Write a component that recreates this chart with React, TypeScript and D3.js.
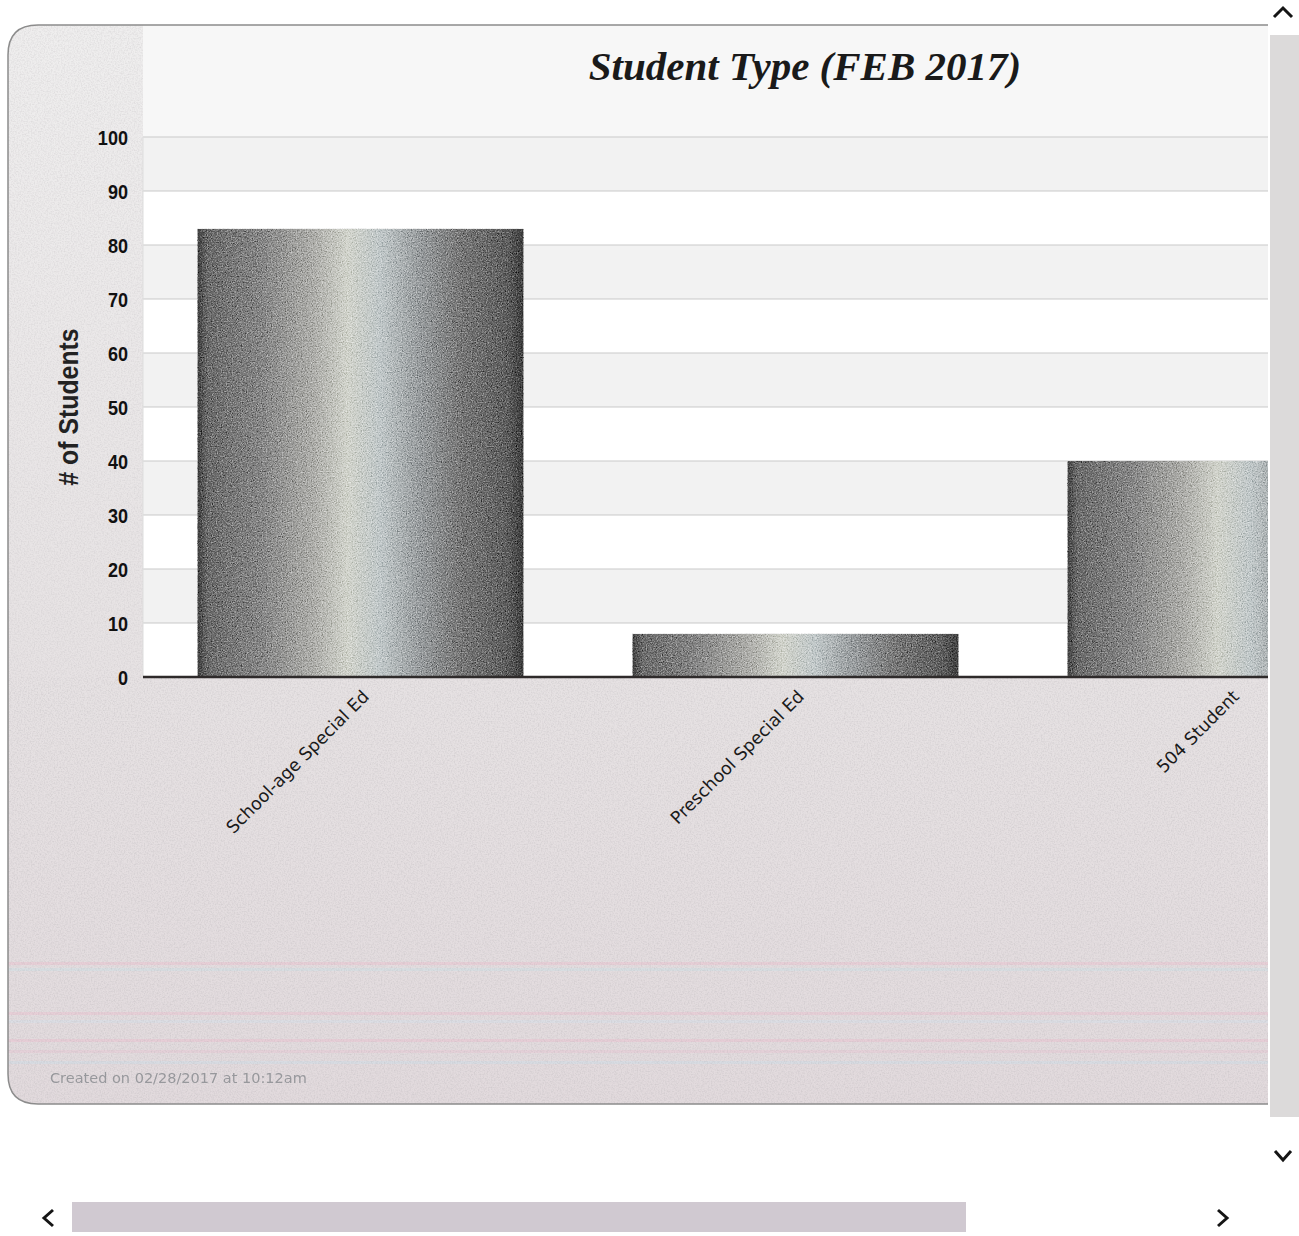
import React from "react";
import * as d3 from "d3";

// ---- chart data ----
const categories = ["School-age Special Ed", "Preschool Special Ed", "504 Student"];
const studentCounts = [83, 8, 40];
const yTickValues = [0, 10, 20, 30, 40, 50, 60, 70, 80, 90, 100];
const chartTitle = "Student Type (FEB 2017)";
const yAxisTitle = "# of Students";
const footnote = "Created on 02/28/2017 at 10:12am";

const W = 1299;
const H = 1236;
const viewRight = 1268; // right edge of the scrolled viewport
const plot = { left: 143, top: 137, bottom: 677, width: 1305 };

export default function App() {
  const y = d3.scaleLinear().domain([0, 100]).range([plot.bottom, plot.top]);
  const x = d3
    .scaleBand<string>()
    .domain(categories)
    .range([plot.left, plot.left + plot.width])
    .paddingInner(0.25)
    .paddingOuter(0.125);

  const bands = yTickValues.filter((v) => v < 100 && (v / 10) % 2 === 1);
  const streaks = [
    { y: 962, c: "#e9c7d2" },
    { y: 968, c: "#d3dfe4" },
    { y: 1012, c: "#e9c7d2" },
    { y: 1020, c: "#d8dfe6" },
    { y: 1039, c: "#e9c7d2" },
    { y: 1050, c: "#e6ccd5" },
    { y: 1061, c: "#d3dde5" },
  ];

  const panelPath = "M8,55 Q8,25 38,25 L1300,25 L1300,1104 L38,1104 Q8,1104 8,1074 Z";

  return (
    <svg
      width={W}
      height={H}
      style={{ position: "absolute", left: 0, top: 0, background: "#ffffff" }}
    >
      <defs>
        <linearGradient id="barFill" x1="0" y1="0" x2="1" y2="0">
          <stop offset="0" stopColor="#3e3e3e" />
          <stop offset="0.03" stopColor="#6a6a6a" />
          <stop offset="0.2" stopColor="#878787" />
          <stop offset="0.36" stopColor="#b0b0ac" />
          <stop offset="0.46" stopColor="#d2d4cc" />
          <stop offset="0.56" stopColor="#c2c9ca" />
          <stop offset="0.68" stopColor="#9a9ea0" />
          <stop offset="0.8" stopColor="#787878" />
          <stop offset="0.95" stopColor="#5c5c5c" />
          <stop offset="1" stopColor="#3c3c3c" />
        </linearGradient>
        <linearGradient id="panelFill" x1="0" y1="0" x2="0" y2="1">
          <stop offset="0" stopColor="#efeeee" />
          <stop offset="0.55" stopColor="#e7e3e4" />
          <stop offset="1" stopColor="#e2dadd" />
        </linearGradient>
        <filter id="grain" x="0" y="0" width="100%" height="100%">
          <feTurbulence type="fractalNoise" baseFrequency="0.8" numOctaves="2" seed="7" result="t" />
          <feColorMatrix
            in="t"
            type="matrix"
            values="0.33 0.33 0.33 0 0  0.33 0.33 0.33 0 0  0.33 0.33 0.33 0 0  0 0 0 0 1"
            result="g"
          />
          <feComponentTransfer in="g" result="gc">
            <feFuncR type="linear" slope="2.8" intercept="-0.9" />
            <feFuncG type="linear" slope="2.8" intercept="-0.9" />
            <feFuncB type="linear" slope="2.8" intercept="-0.9" />
          </feComponentTransfer>
          <feBlend in="gc" in2="SourceGraphic" mode="soft-light" result="b" />
          <feComposite in="b" in2="SourceGraphic" operator="in" />
        </filter>
        <filter id="paperGrain" x="0" y="0" width="100%" height="100%">
          <feTurbulence type="fractalNoise" baseFrequency="0.7" numOctaves="2" seed="3" result="t" />
          <feColorMatrix
            in="t"
            type="matrix"
            values="0 0 0 0 0.45  0 0 0 0 0.43  0 0 0 0 0.45  1.4 0 0 0 -0.55"
          />
        </filter>
        <filter id="soft" x="-5%" y="-50%" width="110%" height="200%">
          <feGaussianBlur stdDeviation="0.6" />
        </filter>
        <clipPath id="viewport">
          <rect x={0} y={0} width={viewRight} height={H} />
        </clipPath>
        <clipPath id="panelClip">
          <path d={panelPath} />
        </clipPath>
      </defs>

      <g clipPath="url(#viewport)">
        {/* panel */}
        <path d={panelPath} fill="url(#panelFill)" />
        <g clipPath="url(#panelClip)">
          <rect x={plot.left} y={25} width={plot.width} height={plot.top - 25} fill="#f7f7f7" />
          {streaks.map((s, i) => (
            <rect key={i} x={8} y={s.y} width={1300} height={3} fill={s.c} opacity={0.65} />
          ))}
          {/* paper grain on the lower part of the panel */}
          <rect x={8} y={plot.bottom} width={1300} height={1104 - plot.bottom} filter="url(#paperGrain)" opacity={0.5} />
          <rect x={8} y={25} width={plot.left - 8} height={plot.bottom - 25} filter="url(#paperGrain)" opacity={0.4} />
        </g>

        {/* plot background with alternating bands */}
        <rect x={plot.left} y={plot.top} width={plot.width} height={plot.bottom - plot.top} fill="#ffffff" />
        {bands.map((v) => (
          <rect
            key={v}
            x={plot.left}
            y={y(v + 10)}
            width={plot.width}
            height={y(v) - y(v + 10)}
            fill="#f2f2f2"
          />
        ))}

        {/* gridlines */}
        {yTickValues
          .filter((v) => v > 0)
          .map((v) => (
            <line
              key={v}
              x1={plot.left}
              x2={plot.left + plot.width}
              y1={y(v)}
              y2={y(v)}
              stroke="#c9c9c9"
              strokeWidth={1}
            />
          ))}
        <line x1={plot.left} x2={plot.left} y1={plot.top} y2={plot.bottom} stroke="#dddddd" />

        {/* bars */}
        {categories.map((c, i) => (
          <rect
            key={c}
            x={x(c)}
            y={y(studentCounts[i])}
            width={x.bandwidth()}
            height={y(0) - y(studentCounts[i])}
            fill="url(#barFill)"
            filter="url(#grain)"
          />
        ))}

        {/* x axis line */}
        <line
          x1={plot.left}
          x2={plot.left + plot.width}
          y1={y(0)}
          y2={y(0)}
          stroke="#2e2a2a"
          strokeWidth={2.5}
        />

        {/* y tick labels */}
        {yTickValues.map((v) => (
          <text
            key={v}
            transform={`translate(128, ${y(v)}) scale(0.86, 1)`}
            dy="0.36em"
            textAnchor="end"
            fontFamily="'Liberation Sans', Arial, sans-serif"
            fontWeight="bold"
            fontSize={21}
            fill="#111111"
          >
            {v}
          </text>
        ))}

        {/* y axis title */}
        <text
          transform={`translate(78, ${(plot.top + plot.bottom) / 2}) rotate(-90) scale(0.92, 1)`}
          textAnchor="middle"
          fontFamily="'Liberation Sans', Arial, sans-serif"
          fontWeight="bold"
          fontSize={27}
          fill="#222222"
        >
          {yAxisTitle}
        </text>

        {/* category labels */}
        {categories.map((c) => (
          <text
            key={c}
            transform={`translate(${(x(c) ?? 0) + x.bandwidth() / 2 + 1}, ${plot.bottom + 12}) rotate(-45)`}
            textAnchor="end"
            dy="0.7em"
            fontFamily="'DejaVu Sans', Verdana, sans-serif"
            fontSize={17.5}
            fill="#1a1a1a"
          >
            {c}
          </text>
        ))}

        {/* title */}
        <text
          x={805}
          y={80}
          textAnchor="middle"
          fontFamily="'Liberation Serif', 'Times New Roman', serif"
          fontWeight="bold"
          fontStyle="italic"
          fontSize={41}
          fill="#1a1a1a"
        >
          {chartTitle}
        </text>

        {/* footnote */}
        <text
          x={50}
          y={1083}
          fontFamily="'DejaVu Sans', Verdana, sans-serif"
          fontSize={14.5}
          fill="#97989c"
          filter="url(#soft)"
        >
          {footnote}
        </text>

        {/* panel outline */}
        <path d={panelPath} fill="none" stroke="#8c8c8c" strokeWidth={1.5} />
      </g>

      {/* vertical scrollbar */}
      <rect x={1270} y={35} width={29} height={1082} fill="#dcdada" />
      <path d="M1274,17 L1283,8 L1292,17" fill="none" stroke="#151515" strokeWidth={3} />
      <path d="M1275,1151 L1283,1160 L1291,1151" fill="none" stroke="#151515" strokeWidth={3} />

      {/* horizontal scrollbar */}
      <rect x={72} y={1202} width={894} height={30} fill="#d0c9d1" />
      <path d="M53,1210 L44,1218 L53,1226" fill="none" stroke="#151515" strokeWidth={3} />
      <path d="M1218,1210 L1227,1218 L1218,1226" fill="none" stroke="#151515" strokeWidth={3} />
    </svg>
  );
}
